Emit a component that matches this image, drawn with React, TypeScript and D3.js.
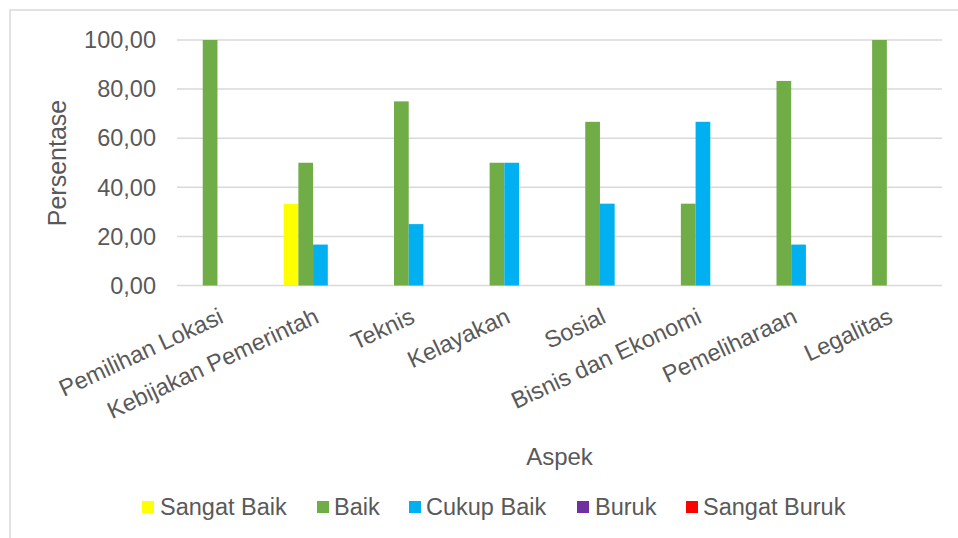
import React from 'react';
import * as d3 from 'd3';

const categories = ['Pemilihan Lokasi', 'Kebijakan Pemerintah', 'Teknis', 'Kelayakan', 'Sosial', 'Bisnis dan Ekonomi', 'Pemeliharaan', 'Legalitas'];
const seriesNames = ['Sangat Baik', 'Baik', 'Cukup Baik', 'Buruk', 'Sangat Buruk'];
const seriesColors = ['#FFFF00', '#70AD47', '#00B0F0', '#7030A0', '#FF0000'];
const sangatBaik = [0, 33.33, 0, 0, 0, 0, 0, 0];
const baik = [100, 50, 75, 50, 66.67, 33.33, 83.33, 100];
const cukupBaik = [0, 16.67, 25, 50, 33.33, 66.67, 16.67, 0];
const buruk = [0, 0, 0, 0, 0, 0, 0, 0];
const sangatBuruk = [0, 0, 0, 0, 0, 0, 0, 0];
const seriesValues = [sangatBaik, baik, cukupBaik, buruk, sangatBuruk];
const yTicks = [0, 20, 40, 60, 80, 100];

const W = 958, H = 538;
const left = 177, right = 942, top = 40, bottom = 285.5;
const font = 'Liberation Sans, Arial, sans-serif';
const textColor = '#595959';

export default function App() {
  const x = d3.scaleBand<string>().domain(categories).range([left, right]).paddingInner(0).paddingOuter(0);
  const bw = x.bandwidth();
  const barW = bw / (5 + 1.5);
  const x1 = d3.scaleBand<string>().domain(seriesNames).range([0, barW * 5]);
  const y = d3.scaleLinear().domain([0, 100]).range([bottom, top]);
  const fmt = (v: number) => d3.format('.2f')(v).replace('.', ',');

  const legendItems = [
    { name: seriesNames[0], sx: 142, tx: 160 },
    { name: seriesNames[1], sx: 317, tx: 334 },
    { name: seriesNames[2], sx: 409, tx: 426 },
    { name: seriesNames[3], sx: 577, tx: 595 },
    { name: seriesNames[4], sx: 686, tx: 703 },
  ];

  return (
    <svg width={W} height={H} style={{ position: 'absolute', left: 0, top: 0, background: '#fff' }} fontFamily={font}>
      <rect x={0} y={0} width={W} height={H} fill="#fff" />
      <rect x={10} y={10} width={W + 20} height={H + 20} fill="none" stroke="#d9d9d9" strokeWidth={1.5} />
      {yTicks.map((t) => (
        <g key={t}>
          <line x1={left} x2={right} y1={y(t)} y2={y(t)} stroke="#d9d9d9" strokeWidth={1.5} />
          <text x={156} y={y(t)} dy="0.35em" textAnchor="end" fontSize={23.5} fill={textColor}>{fmt(t)}</text>
        </g>
      ))}
      {seriesValues.map((vals, si) => (
        <g key={si} fill={seriesColors[si]}>
          {vals.map((v, ci) => v > 0 ? (
            <rect key={ci}
              x={(x(categories[ci]) as number) + (bw - barW * 5) / 2 + (x1(seriesNames[si]) as number)}
              y={y(v)} width={barW} height={y(0) - y(v)} />
          ) : null)}
        </g>
      ))}
      {categories.map((c) => {
        const cx = (x(c) as number) + bw / 2;
        return (
          <text key={c} transform={`translate(${cx},322) rotate(-25)`} textAnchor="end" fontSize={23.5} fill={textColor}>{c}</text>
        );
      })}
      <text transform={`translate(66,163) rotate(-90)`} textAnchor="middle" fontSize={25} fill={textColor}>Persentase</text>
      <text x={(left + right) / 2} y={465} textAnchor="middle" fontSize={24} fill={textColor}>Aspek</text>
      {legendItems.map((it, i) => (
        <g key={it.name}>
          <rect x={it.sx} y={501} width={12} height={12} fill={seriesColors[i]} />
          <text x={it.tx} y={507} dy="0.35em" fontSize={23.5} fill={textColor}>{it.name}</text>
        </g>
      ))}
    </svg>
  );
}
